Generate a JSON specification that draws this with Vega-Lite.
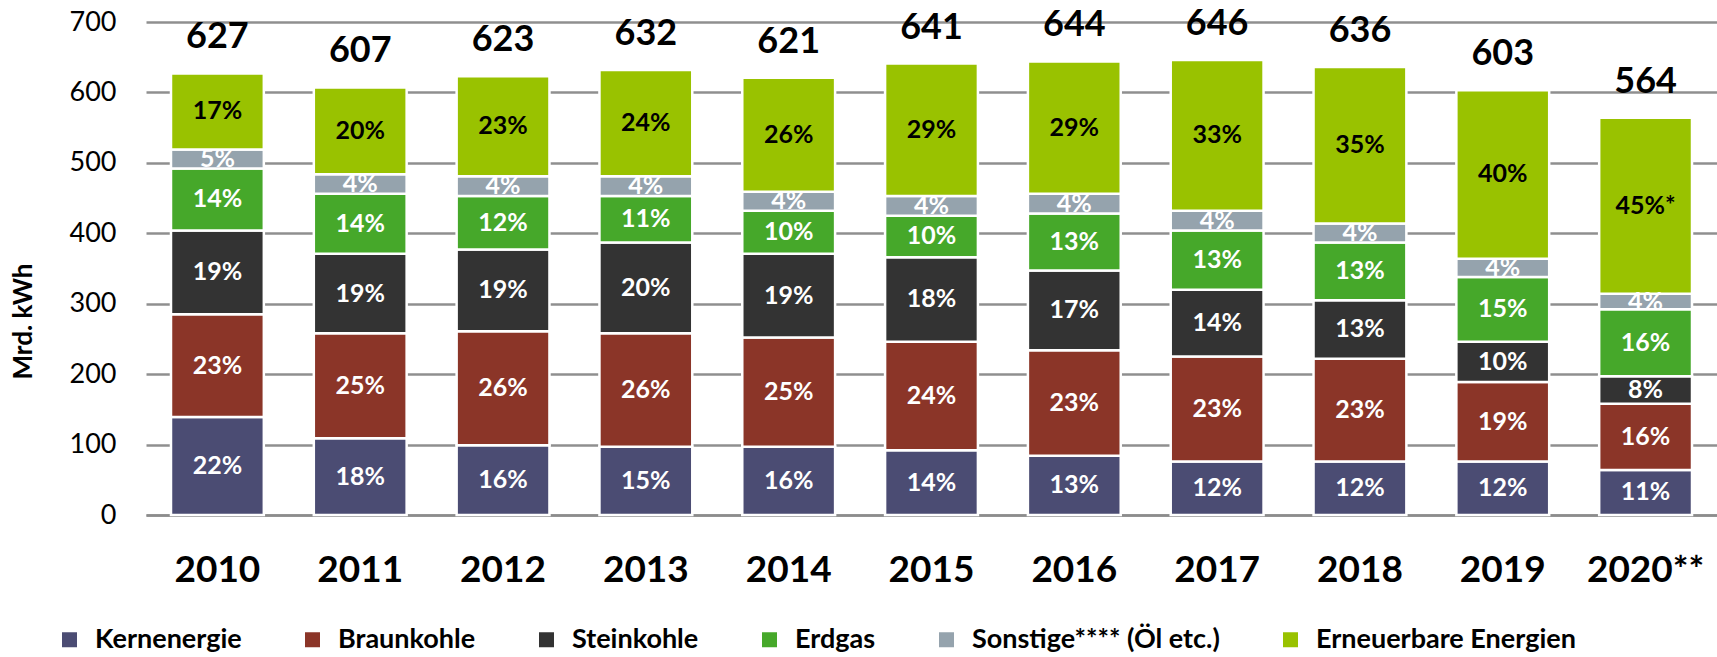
{
  "$schema": "https://vega.github.io/schema/vega-lite/v6.json",
  "width": 1571,
  "height": 493,
  "autosize": {"type": "none"},
  "padding": {"left": 146, "top": 22, "right": 0, "bottom": 142},
  "background": "white",
  "config": {
    "font": "Lato",
    "view": {"stroke": null},
    "legend": {"padding": 0}
  },
  "data": {
    "values": [
      {"year": "2010", "source": "Kernenergie", "value": 139, "label": "22%", "k": 1},
      {"year": "2010", "source": "Braunkohle", "value": 146, "label": "23%", "k": 2},
      {"year": "2010", "source": "Steinkohle", "value": 119, "label": "19%", "k": 3},
      {"year": "2010", "source": "Erdgas", "value": 88, "label": "14%", "k": 4},
      {"year": "2010", "source": "Sonstige**** (Öl etc.)", "value": 27, "label": "5%", "k": 5},
      {"year": "2010", "source": "Erneuerbare Energien", "value": 108, "label": "17%", "k": 6},
      {"year": "2011", "source": "Kernenergie", "value": 109, "label": "18%", "k": 1},
      {"year": "2011", "source": "Braunkohle", "value": 149, "label": "25%", "k": 2},
      {"year": "2011", "source": "Steinkohle", "value": 113, "label": "19%", "k": 3},
      {"year": "2011", "source": "Erdgas", "value": 85, "label": "14%", "k": 4},
      {"year": "2011", "source": "Sonstige**** (Öl etc.)", "value": 28, "label": "4%", "k": 5},
      {"year": "2011", "source": "Erneuerbare Energien", "value": 123, "label": "20%", "k": 6},
      {"year": "2012", "source": "Kernenergie", "value": 99, "label": "16%", "k": 1},
      {"year": "2012", "source": "Braunkohle", "value": 162, "label": "26%", "k": 2},
      {"year": "2012", "source": "Steinkohle", "value": 116, "label": "19%", "k": 3},
      {"year": "2012", "source": "Erdgas", "value": 76, "label": "12%", "k": 4},
      {"year": "2012", "source": "Sonstige**** (Öl etc.)", "value": 28, "label": "4%", "k": 5},
      {"year": "2012", "source": "Erneuerbare Energien", "value": 142, "label": "23%", "k": 6},
      {"year": "2013", "source": "Kernenergie", "value": 97, "label": "15%", "k": 1},
      {"year": "2013", "source": "Braunkohle", "value": 161, "label": "26%", "k": 2},
      {"year": "2013", "source": "Steinkohle", "value": 129, "label": "20%", "k": 3},
      {"year": "2013", "source": "Erdgas", "value": 66, "label": "11%", "k": 4},
      {"year": "2013", "source": "Sonstige**** (Öl etc.)", "value": 28, "label": "4%", "k": 5},
      {"year": "2013", "source": "Erneuerbare Energien", "value": 151, "label": "24%", "k": 6},
      {"year": "2014", "source": "Kernenergie", "value": 97, "label": "16%", "k": 1},
      {"year": "2014", "source": "Braunkohle", "value": 155, "label": "25%", "k": 2},
      {"year": "2014", "source": "Steinkohle", "value": 119, "label": "19%", "k": 3},
      {"year": "2014", "source": "Erdgas", "value": 61, "label": "10%", "k": 4},
      {"year": "2014", "source": "Sonstige**** (Öl etc.)", "value": 27, "label": "4%", "k": 5},
      {"year": "2014", "source": "Erneuerbare Energien", "value": 162, "label": "26%", "k": 6},
      {"year": "2015", "source": "Kernenergie", "value": 92, "label": "14%", "k": 1},
      {"year": "2015", "source": "Braunkohle", "value": 154, "label": "24%", "k": 2},
      {"year": "2015", "source": "Steinkohle", "value": 120, "label": "18%", "k": 3},
      {"year": "2015", "source": "Erdgas", "value": 59, "label": "10%", "k": 4},
      {"year": "2015", "source": "Sonstige**** (Öl etc.)", "value": 28, "label": "4%", "k": 5},
      {"year": "2015", "source": "Erneuerbare Energien", "value": 188, "label": "29%", "k": 6},
      {"year": "2016", "source": "Kernenergie", "value": 84, "label": "13%", "k": 1},
      {"year": "2016", "source": "Braunkohle", "value": 150, "label": "23%", "k": 2},
      {"year": "2016", "source": "Steinkohle", "value": 113, "label": "17%", "k": 3},
      {"year": "2016", "source": "Erdgas", "value": 81, "label": "13%", "k": 4},
      {"year": "2016", "source": "Sonstige**** (Öl etc.)", "value": 28, "label": "4%", "k": 5},
      {"year": "2016", "source": "Erneuerbare Energien", "value": 188, "label": "29%", "k": 6},
      {"year": "2017", "source": "Kernenergie", "value": 76, "label": "12%", "k": 1},
      {"year": "2017", "source": "Braunkohle", "value": 149, "label": "23%", "k": 2},
      {"year": "2017", "source": "Steinkohle", "value": 95, "label": "14%", "k": 3},
      {"year": "2017", "source": "Erdgas", "value": 84, "label": "13%", "k": 4},
      {"year": "2017", "source": "Sonstige**** (Öl etc.)", "value": 28, "label": "4%", "k": 5},
      {"year": "2017", "source": "Erneuerbare Energien", "value": 214, "label": "33%", "k": 6},
      {"year": "2018", "source": "Kernenergie", "value": 76, "label": "12%", "k": 1},
      {"year": "2018", "source": "Braunkohle", "value": 146, "label": "23%", "k": 2},
      {"year": "2018", "source": "Steinkohle", "value": 83, "label": "13%", "k": 3},
      {"year": "2018", "source": "Erdgas", "value": 82, "label": "13%", "k": 4},
      {"year": "2018", "source": "Sonstige**** (Öl etc.)", "value": 27, "label": "4%", "k": 5},
      {"year": "2018", "source": "Erneuerbare Energien", "value": 222, "label": "35%", "k": 6},
      {"year": "2019", "source": "Kernenergie", "value": 76, "label": "12%", "k": 1},
      {"year": "2019", "source": "Braunkohle", "value": 113, "label": "19%", "k": 2},
      {"year": "2019", "source": "Steinkohle", "value": 57, "label": "10%", "k": 3},
      {"year": "2019", "source": "Erdgas", "value": 92, "label": "15%", "k": 4},
      {"year": "2019", "source": "Sonstige**** (Öl etc.)", "value": 26, "label": "4%", "k": 5},
      {"year": "2019", "source": "Erneuerbare Energien", "value": 239, "label": "40%", "k": 6},
      {"year": "2020**", "source": "Kernenergie", "value": 64, "label": "11%", "k": 1},
      {"year": "2020**", "source": "Braunkohle", "value": 94, "label": "16%", "k": 2},
      {"year": "2020**", "source": "Steinkohle", "value": 39, "label": "8%", "k": 3},
      {"year": "2020**", "source": "Erdgas", "value": 95, "label": "16%", "k": 4},
      {"year": "2020**", "source": "Sonstige**** (Öl etc.)", "value": 22, "label": "4%", "k": 5},
      {"year": "2020**", "source": "Erneuerbare Energien", "value": 250, "label": "45%*", "k": 6}
    ]
  },
  "layer": [
    {
      "mark": {"type": "bar", "stroke": "white", "strokeWidth": 2.5},
      "encoding": {
        "x": {
          "field": "year", "type": "nominal", "sort": null,
          "scale": {"paddingInner": 0.35, "paddingOuter": 0.175},
          "axis": {
            "title": null, "labelAngle": 0, "ticks": false, "tickSize": 0,
            "labelPadding": 55, "labelBaseline": "middle",
            "labelFont": "Lato", "labelFontSize": 37, "labelFontWeight": "bold", "labelColor": "black",
            "domainColor": "#8c8c8c", "domainWidth": 2.5
          }
        },
        "y": {
          "field": "value", "type": "quantitative", "aggregate": "sum",
          "scale": {"domain": [0, 700], "nice": false},
          "axis": {
            "values": [0, 100, 200, 300, 400, 500, 600, 700],
            "title": "Mrd. kWh", "titleFont": "Lato", "titleFontSize": 26, "titleFontWeight": "bold", "titleColor": "black",
            "titleAngle": -90, "titleX": -123, "titleY": 299, "titleAlign": "center", "titleBaseline": "middle",
            "domain": false, "ticks": false, "tickSize": 0, "labelPadding": 30,
            "labelFont": "Lato", "labelFontSize": 27, "labelColor": "black",
            "gridColor": "#8f8f8f", "gridWidth": 2.5
          }
        },
        "color": {
          "field": "source", "type": "nominal",
          "scale": {
            "domain": ["Kernenergie", "Braunkohle", "Steinkohle", "Erdgas", "Sonstige**** (Öl etc.)", "Erneuerbare Energien"],
            "range": ["#4B4C73", "#8B3528", "#333333", "#46A82A", "#95A3AD", "#99C200"]
          },
          "legend": {
            "title": null, "orient": "none", "direction": "horizontal",
            "legendX": -90, "legendY": 604,
            "symbolType": "square", "symbolSize": 225, "symbolStrokeWidth": 0,
            "labelFont": "Lato", "labelFontSize": 27, "labelFontWeight": "bold", "labelColor": "black",
            "labelOffset": 12, "columnPadding": 57, "labelLimit": 400
          }
        },
        "order": {"field": "k", "type": "quantitative"}
      }
    },
    {
      "transform": [
        {"stack": "value", "groupby": ["year"], "sort": [{"field": "k"}], "as": ["y0", "y1"]},
        {"fold": ["y0", "y1"], "as": ["edgeKind", "edge"]}
      ],
      "mark": {"type": "text", "font": "Lato", "fontSize": 25, "fontWeight": "bold", "baseline": "middle", "align": "center"},
      "encoding": {
        "x": {"field": "year", "type": "nominal", "sort": null},
        "y": {"field": "edge", "type": "quantitative", "aggregate": "mean", "stack": null},
        "detail": {"field": "source", "type": "nominal"},
        "text": {"field": "label", "type": "nominal"},
        "color": {
          "condition": {"test": "datum.source === 'Erneuerbare Energien'", "value": "black"},
          "value": "white"
        }
      }
    },
    {
      "mark": {"type": "text", "font": "Lato", "fontSize": 36, "fontWeight": "bold", "baseline": "alphabetic", "align": "center", "dy": -25, "color": "black"},
      "encoding": {
        "x": {"field": "year", "type": "nominal", "sort": null},
        "y": {"field": "value", "type": "quantitative", "aggregate": "sum", "stack": null},
        "text": {"field": "value", "type": "quantitative", "aggregate": "sum"}
      }
    }
  ]
}
